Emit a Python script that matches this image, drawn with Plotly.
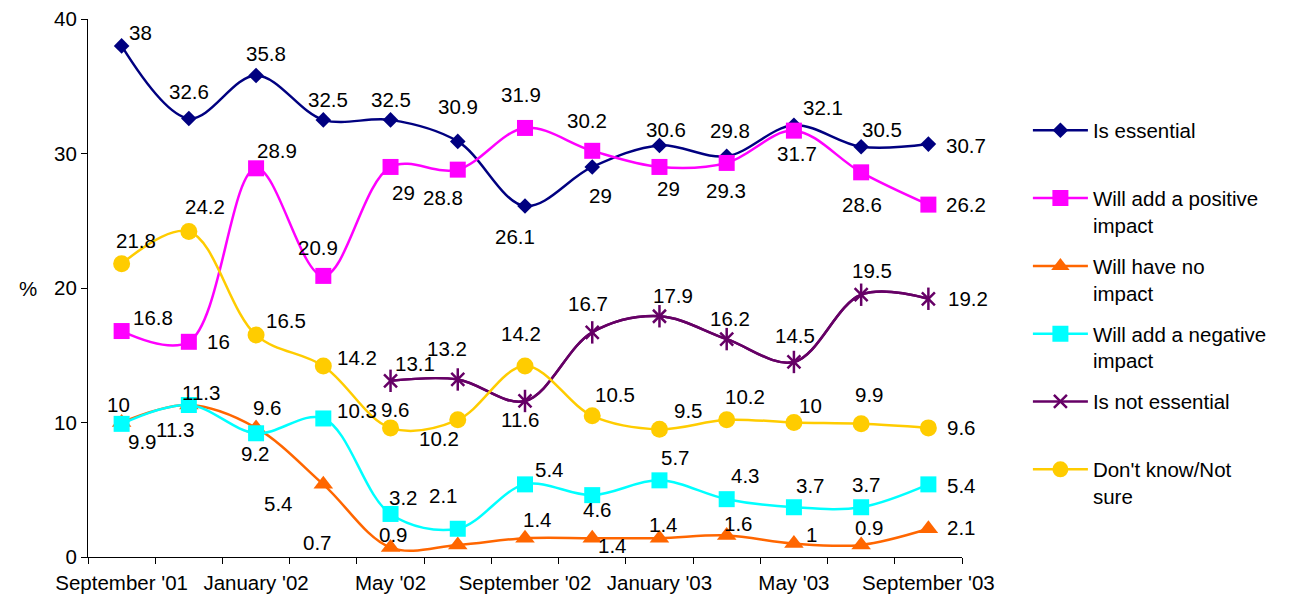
import plotly.graph_objects as go

months = ["September '01", "November '01", "January '02", "March '02", "May '02", "July '02",
          "September '02", "November '02", "January '03", "March '03", "May '03", "July '03",
          "September '03"]
tick_labels = ["September '01", "", "January '02", "", "May '02", "", "September '02", "",
               "January '03", "", "May '03", "", "September '03"]

is_essential = [38, 32.6, 35.8, 32.5, 32.5, 30.9, 26.1, 29, 30.6, 29.8, 32.1, 30.5, 30.7]
positive_impact = [16.8, 16, 28.9, 20.9, 29, 28.8, 31.9, 30.2, 29, 29.3, 31.7, 28.6, 26.2]
no_impact = [10, 11.3, 9.6, 5.4, 0.7, 0.9, 1.4, 1.4, 1.4, 1.6, 1, 0.9, 2.1]
negative_impact = [9.9, 11.3, 9.2, 10.3, 3.2, 2.1, 5.4, 4.6, 5.7, 4.3, 3.7, 3.7, 5.4]
not_essential_months = months[4:]
not_essential = [13.1, 13.2, 11.6, 16.7, 17.9, 16.2, 14.5, 19.5, 19.2]
dont_know = [21.8, 24.2, 16.5, 14.2, 9.6, 10.2, 14.2, 10.5, 9.5, 10.2, 10, 9.9, 9.6]

# label offsets (pixels; dy positive = downward)
ess_dx = [18.5, 0, 10, 5, 0, 0, -10, 8, 7, 3, 29, 21, 38]
ess_dy = [-13.5, -27, -22, -20, -20, -35, 31, 29, -16, -26, -18, -17, 1]
pos_dx = [31, 30, 21, -5, 13, -15, -4, -5, 9, -1, 3, 1, 38]
pos_dy = [-14, 0, -18, -28, 26, 28, -33, -30, 22, 28, 23, 32, 0]
no_dx = [-3, 12, 11, -45, -73, -64, 12.5, 20, 4, 12, 18, 8, 33]
no_dy = [-18, -12.5, -20.5, 19, -5, -10, -18.5, 7, -13.5, -11.5, -9, -17.5, -1]
neg_dx = [21, -14, -1, 34, 13, -14, 24, 5.5, 16, 19, 17, 5, 33]
neg_dy = [18, 24.5, 20, -8, -16.5, -33, -15, 14.5, -23, -23.5, -21.5, -22.5, 1]
notess_dx = [24, -10.5, -5, -4, 13.5, 3, 1, 11, 40]
notess_dy = [-17, -31, 19, -29, -21, -21, -26, -24, 0]
dk_dx = [14, 16, 30, 34, 5, -19, -4, 23, 29, 18, 17, 8.5, 33]
dk_dy = [-23, -25.5, -14.5, -9, -18.5, 19, -33, -21, -19, -23, -17, -29, 0]

FONT = "Liberation Sans, Arial, sans-serif"
FS = 20.5

fig = go.Figure()

series = [
    ("Is essential<br> ", months, is_essential, "#000080", "diamond", 12, ess_dx, ess_dy),
    ("Will add a positive<br>impact", months, positive_impact, "#FF00FF", "square", 16, pos_dx, pos_dy),
    ("Will have no<br>impact", months, no_impact, "#FF6600", "triangle-up", 17, no_dx, no_dy),
    ("Will add a negative<br>impact", months, negative_impact, "#00FFFF", "square", 16, neg_dx, neg_dy),
    ("Is not essential<br> ", not_essential_months, not_essential, "#660066", "x-thin-open", 13, notess_dx, notess_dy),
    ("Don't know/Not<br>sure", months, dont_know, "#FFCC00", "circle", 17, dk_dx, dk_dy),
]

annotations = []
for i, (name, xs, ys, color, sym, size, dxs, dys) in enumerate(series):
    if sym == "x-thin-open":
        fig.add_trace(go.Scatter(
            x=xs, y=ys, mode="lines", line=dict(color=color, width=2.5, shape="spline", smoothing=1),
            showlegend=False, hoverinfo="skip", legendgroup=f"g{i}"))
        fig.add_trace(go.Scatter(
            x=xs, y=ys, mode="markers",
            marker=dict(symbol="line-ns-open", size=16, color=color, line=dict(color=color, width=2.5)),
            showlegend=False, hoverinfo="skip", legendgroup=f"g{i}"))
        fig.add_trace(go.Scatter(
            x=xs, y=ys, mode="lines+markers", name=name, legendgroup=f"g{i}",
            line=dict(color=color, width=2.5, shape="spline", smoothing=1),
            marker=dict(symbol=sym, size=size, color=color, line=dict(color=color, width=2.5))))
    else:
        fig.add_trace(go.Scatter(
            x=xs, y=ys, mode="lines+markers", name=name, legendgroup=f"g{i}",
            line=dict(color=color, width=2.5, shape="spline", smoothing=1),
            marker=dict(symbol=sym, size=size, color=color, line=dict(width=0))))
    for x, y, dx, dy in zip(xs, ys, dxs, dys):
        annotations.append(dict(x=x, y=y, xref="x", yref="y", text=f"{y:g}", showarrow=False,
                                xshift=dx, yshift=-dy, font=dict(family=FONT, size=FS, color="black")))

annotations.append(dict(x=0, y=0.5, xref="paper", yref="paper", text="%", showarrow=False,
                        xshift=-71, font=dict(family=FONT, size=FS, color="black")))

fig.update_layout(
    width=1289, height=601,
    margin=dict(l=80, r=335, t=11, b=52, autoexpand=False),
    paper_bgcolor="white", plot_bgcolor="white",
    font=dict(family=FONT, size=FS, color="black"),
    showlegend=True,
    legend=dict(x=1.0754, xanchor="left", y=0.83, yanchor="top", itemwidth=55,
                font=dict(family=FONT, size=FS, color="black"),
                tracegroupgap=11.5, valign="top", bgcolor="rgba(0,0,0,0)"),
    annotations=annotations,
    xaxis=dict(type="category", categoryorder="array", categoryarray=months,
               tickmode="array", tickvals=months, ticktext=tick_labels, tickson="boundaries",
               ticks="outside", ticklen=6, tickcolor="black", showline=True, linecolor="black",
               linewidth=1, showgrid=False, zeroline=False, range=[-0.5, 12.5],
               tickangle=0, automargin=False, ticklabelstandoff=7, ticklabeloverflow="allow",
               tickfont=dict(family=FONT, size=FS, color="black")),
    yaxis=dict(range=[0, 40], tickvals=[0, 10, 20, 30, 40], ticks="outside", ticklen=6,
               tickcolor="black", showline=True, linecolor="black", linewidth=1, automargin=False,
               ticklabeloverflow="allow",
               showgrid=False, zeroline=False, tickfont=dict(family=FONT, size=FS, color="black")),
)

fig.write_html("out.html")
